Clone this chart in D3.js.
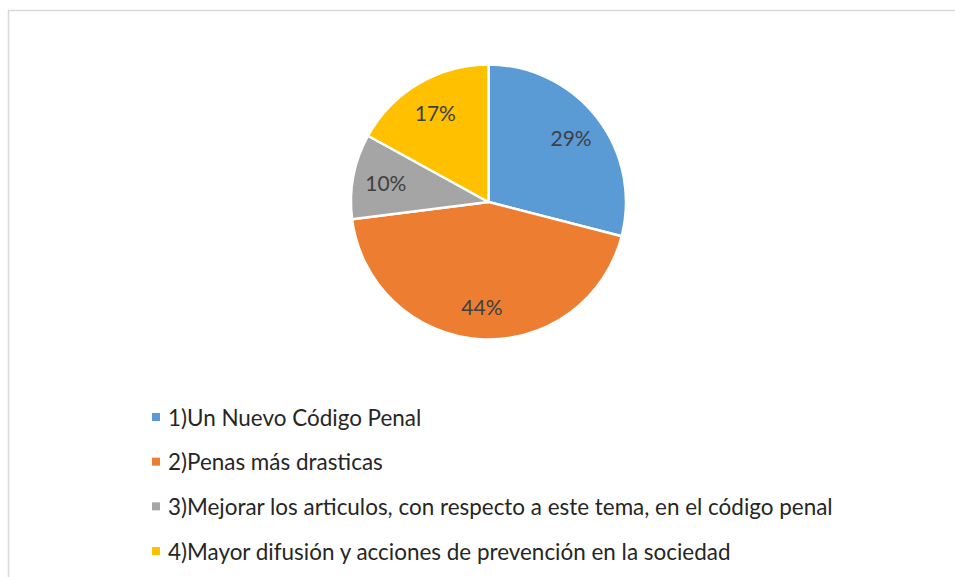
<!DOCTYPE html>
<html>
<head>
<meta charset="utf-8">
<script src="https://cdn.jsdelivr.net/npm/d3@7/dist/d3.min.js"></script>
<style>
html,body{margin:0;padding:0;background:#fff;}
svg{display:block;}
</style>
</head>
<body>
<svg id="chart" width="955" height="577"></svg>
<script>
const categories = [
  "1)Un Nuevo Código Penal",
  "2)Penas más drasticas",
  "3)Mejorar los articulos, con respecto a este tema, en el código penal",
  "4)Mayor difusión y acciones de prevención en la sociedad"
];
const values = [29, 44, 10, 17];
const colors = ["#5b9bd5", "#ed7d31", "#a5a5a5", "#ffc000"];

const svg = d3.select("#chart");

// frame
svg.append("rect").attr("x", 8.5).attr("y", 10.5).attr("width", 1000).attr("height", 1000)
  .attr("fill", "#fff").attr("stroke", "#d9d9d9").attr("stroke-width", 1.5);

const cx = 488.5, cy = 202, R = 137.5;
const pie = d3.pie().sort(null).value(d => d)(values);
const arc = d3.arc().innerRadius(0).outerRadius(R);
const labelArc = d3.arc().innerRadius(R * 0.76).outerRadius(R * 0.76);

const g = svg.append("g").attr("transform", `translate(${cx},${cy})`);
g.selectAll("path.slice").data(pie).enter().append("path")
  .attr("class", "slice")
  .attr("d", arc)
  .attr("fill", (d, i) => colors[i])
  .attr("stroke", "#fff").attr("stroke-width", 2.5).attr("stroke-linejoin", "round");

const total = d3.sum(values);
const font = "Lato, 'Open Sans', sans-serif";
g.selectAll("text.pct").data(pie).enter().append("text")
  .attr("class", "pct")
  .attr("transform", d => `translate(${labelArc.centroid(d)})`)
  .attr("text-anchor", "middle").attr("dominant-baseline", "central")
  .attr("font-family", font).attr("font-size", 21)
  .attr("fill", "#404040")
  .text(d => Math.round(d.data / total * 100) + "%");

// legend
const legendY = d3.scalePoint().domain(d3.range(categories.length)).range([417, 551]);
const lg = svg.append("g");
const items = lg.selectAll("g.item").data(categories).enter().append("g")
  .attr("class", "item")
  .attr("transform", (d, i) => `translate(152,${legendY(i)})`);
items.append("rect").attr("x", 0).attr("y", -4).attr("width", 8).attr("height", 8)
  .attr("fill", (d, i) => colors[i]);
const texts = items.append("text").attr("x", 16).attr("y", 0)
  .attr("dominant-baseline", "central")
  .attr("font-family", font).attr("font-size", 22)
  .attr("fill", "#262626")
  .text(d => d);
const longest = d3.max(texts.nodes(), n => n.getComputedTextLength());
const fs = 22 * 665 / longest;
texts.attr("font-size", fs);
</script>
</body>
</html>
